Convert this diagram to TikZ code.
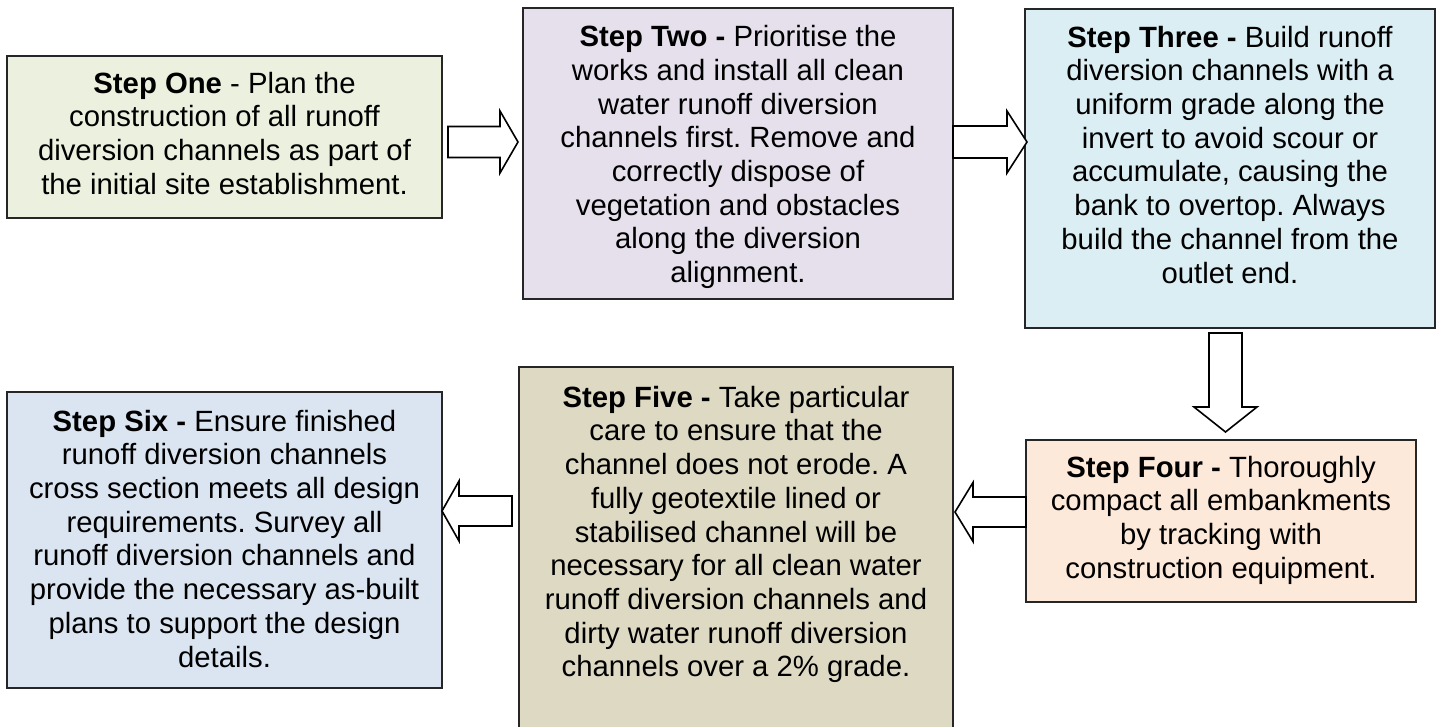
\documentclass[tikz,border=0pt]{standalone}
\usepackage{fontspec}
\setmainfont{Liberation Sans}
\usetikzlibrary{calc}
\frenchspacing
\definecolor{cone}{HTML}{EBF1DE}
\definecolor{ctwo}{HTML}{E5E0EC}
\definecolor{cthree}{HTML}{DBEEF4}
\definecolor{cfour}{HTML}{FDE9D9}
\definecolor{cfive}{HTML}{DDD9C3}
\definecolor{csix}{HTML}{DBE5F1}
\newcommand\fsz{\fontsize{29.3}{33.7}\selectfont\frenchspacing}
\tikzset{
  stepbox/.style={draw=black!85, line width=1.8pt, inner sep=0pt, outer sep=0pt},
  txt/.style={anchor=north, inner sep=0pt, align=center, font=\fsz},
  barrow/.style={draw=black, fill=white, line width=1.6pt, line join=miter},
}
% right-pointing block arrow: #1 start (shaft end, sets centre y), #2 tip (x used)
\newcommand\rarr[5]{\draw[barrow] let \p1=(#1), \p2=(#2) in
  (\x1,\y1+#3) -- (\x2-#5,\y1+#3) -- (\x2-#5,\y1+#4) -- (\x2,\y1) --
  (\x2-#5,\y1-#4) -- (\x2-#5,\y1-#3) -- (\x1,\y1-#3) -- cycle;}
% left-pointing block arrow
\newcommand\larr[5]{\draw[barrow] let \p1=(#1), \p2=(#2) in
  (\x1,\y1+#3) -- (\x2+#5,\y1+#3) -- (\x2+#5,\y1+#4) -- (\x2,\y1) --
  (\x2+#5,\y1-#4) -- (\x2+#5,\y1-#3) -- (\x1,\y1-#3) -- cycle;}
% down-pointing block arrow: #1 start (sets centre x), #2 tip (y used)
\newcommand\darr[5]{\draw[barrow] let \p1=(#1), \p2=(#2) in
  (\x1-#3,\y1) -- (\x1-#3,\y2+#5) -- (\x1-#4,\y2+#5) -- (\x1,\y2) --
  (\x1+#4,\y2+#5) -- (\x1+#3,\y2+#5) -- (\x1+#3,\y1) -- cycle;}
\begin{document}
\begin{tikzpicture}[x=1pt,y=-1pt]
\useasboundingbox (0,0) rectangle (1438,726);
% boxes
\node[stepbox, fill=cone,   minimum width=435, minimum height=162] (b1) at (224.5,137) {};
\node[stepbox, fill=ctwo,   minimum width=430, minimum height=291] (b2) at (738,153.5) {};
\node[stepbox, fill=cthree, minimum width=410, minimum height=319] (b3) at (1230,168.5) {};
\node[stepbox, fill=cfour,  minimum width=390, minimum height=162] (b4) at (1221,521) {};
\node[stepbox, fill=cfive,  minimum width=434, minimum height=366] (b5) at (736,550) {};
\node[stepbox, fill=csix,   minimum width=435, minimum height=296] (b6) at (224.5,540) {};
% texts
\node[txt] (t1) at ($(b1.north)+(0,13.4)$) {\strut\textbf{Step One} - Plan the\\construction of all runoff\\diversion channels as part of\\the initial site establishment.};
\node[txt] (t2) at ($(b2.north)+(0,15)$) {\strut\textbf{Step Two -} Prioritise the\\works and install all clean\\water runoff diversion\\channels first. Remove and\\correctly dispose of\\vegetation and obstacles\\along the diversion\\alignment.};
\node[txt] (t3) at ($(b3.north)+(0,14.4)$) {\strut\textbf{Step Three -} Build runoff\\diversion channels with a\\uniform grade along the\\invert to avoid scour or\\accumulate, causing the\\bank to overtop. Always\\build the channel from the\\outlet end.};
\node[txt] (t4) at ($(b4.north)+(0,13.4)$) {\strut\textbf{Step Four -} Thoroughly\\compact all embankments\\by tracking with\\construction equipment.};
\node[txt] (t5) at ($(b5.north)+(0,16.4)$) {\strut\textbf{Step Five -} Take particular\\care to ensure that the\\channel does not erode. A\\fully geotextile lined or\\stabilised channel will be\\necessary for all clean water\\runoff diversion channels and\\dirty water runoff diversion\\channels over a 2\% grade.};
\node[txt] (t6) at ($(b6.north)+(0,15.4)$) {\strut\textbf{Step Six -} Ensure finished\\runoff diversion channels\\cross section meets all design\\requirements. Survey all\\runoff diversion channels and\\provide the necessary as-built\\plans to support the design\\details.};
% arrow anchor points
\coordinate (a1s) at ($(b1.east)+(6,5)$);
\coordinate (a1e) at ($(b2.west)+(-5,0)$);
\coordinate (a2s) at ($(b2.east)+(0,-11.5)$);
\coordinate (a2e) at ($(b3.west)+(2,0)$);
\coordinate (a3s) at ($(b3.south)+(-4.5,5)$);
\coordinate (a3e) at ($(b4.north)+(0,-8)$);
\coordinate (a4s) at ($(b4.west)+(0,-9)$);
\coordinate (a4e) at ($(b5.east)+(2,0)$);
\coordinate (a5s) at ($(b5.west)+(-7,-39)$);
\coordinate (a5e) at ($(b6.east)+(0,0)$);
% connectors
\rarr{a1s}{a1e}{15.5}{31}{18}
\rarr{a2s}{a2e}{16}{31}{20}
\darr{a3s}{a3e}{16.5}{31.5}{25}
\larr{a4s}{a4e}{15}{29.5}{18}
\larr{a5s}{a5e}{15}{30}{17}
\end{tikzpicture}
\end{document}
